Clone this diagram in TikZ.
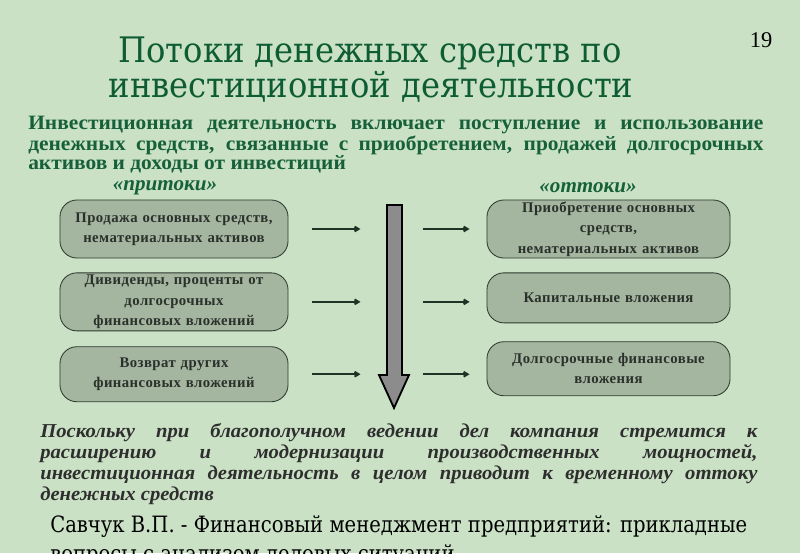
\documentclass[tikz,border=0pt]{standalone}
\usepackage{fontspec}
\setmainfont{Liberation Serif}
\newfontfamily\titlefont[FakeStretch=0.915]{DejaVu Serif}
\newfontfamily\srcfont[FakeStretch=0.87]{DejaVu Serif}
\newfontfamily\introfont[FakeStretch=1.05]{Liberation Serif}
\newfontfamily\notefont[FakeStretch=1.05]{Liberation Serif}
\newfontfamily\boxfont[LetterSpace=3]{Liberation Serif}
\usetikzlibrary{positioning, arrows.meta, calc}
\definecolor{bgfill}{HTML}{CAE1C5}
\definecolor{titlegreen}{HTML}{0E5C33}
\definecolor{textgreen}{HTML}{16603A}
\definecolor{boxfill}{HTML}{A4B5A0}
\definecolor{boxline}{HTML}{2E3B2E}
\definecolor{boxtext}{HTML}{2A312B}
\definecolor{arrowgray}{HTML}{8C8C8C}
\definecolor{darkline}{HTML}{1E3324}

\begin{document}
\begin{tikzpicture}[
  x=0.025cm, y=-0.025cm,
  every node/.style={inner sep=0pt},
  heading/.style={text=titlegreen, font=\titlefont\fontsize{25}{30}\selectfont},
  flowbox/.style={
    draw=boxline, fill=boxfill, rounded corners=12pt, line width=0.6pt,
    text width=5.4cm, align=center, text=boxtext,
    font=\boxfont\bfseries\fontsize{10.5}{14.5}\selectfont
  },
  side/.style={text=textgreen, font=\bfseries\itshape\fontsize{15}{16}\selectfont},
  small/.style={-{Straight Barb[length=1mm, width=1.2mm]}, darkline, line width=1.4pt},
  bigarrow/.style={draw=black, fill=arrowgray, line width=1.3pt, line join=miter}
]
  \fill[bgfill] (0,0) rectangle (800,553);
  \clip (0,0) rectangle (800,553);

  % heading
  \node[heading, anchor=base] (t1) at (370,62) {Потоки денежных средств по};
  \node[heading, anchor=base] (t2) at (371,97) {инвестиционной деятельности};
  \node[anchor=base, font=\fontsize{16}{18}\selectfont] (num) at (761,47) {19};

  \node[anchor=north west, text width=18.375cm, align=justify, text=textgreen,
        font=\introfont\bfseries\fontsize{14.5}{12.6}\selectfont] (intro) at (28,116)
    {Инвестиционная деятельность включает поступление и использование\linebreak{} денежных средств, связанные с приобретением, продажей долгосрочных\linebreak{} активов и доходы от инвестиций};

  \node[side] (inlab) at (165,188) {«притоки»};
  \node[side] (outlab) at (588,188) {«оттоки»};

  % inflows
  \node[flowbox, minimum width=5.7cm, minimum height=1.45cm] (in1) at (174,229)
    {Продажа основных средств,\\нематериальных активов};
  \node[flowbox, minimum width=5.7cm, minimum height=1.45cm, below=0.35cm of in1] (in2)
    {Дивиденды, проценты от\\долгосрочных\\финансовых вложений};
  \node[flowbox, minimum width=5.7cm, minimum height=1.375cm, below=0.375cm of in2] (in3)
    {Возврат других\\финансовых вложений};

  % outflows
  \node[flowbox, minimum width=6.075cm, minimum height=1.45cm] (out1) at (608.5,229)
    {Приобретение основных\\средств,\\нематериальных активов};
  \node[flowbox, minimum width=6.075cm, minimum height=1.25cm, below=0.35cm of out1] (out2)
    {Капитальные вложения};
  \node[flowbox, minimum width=6.075cm, minimum height=1.35cm, below=0.45cm of out2] (out3)
    {Долгосрочные финансовые\\вложения};

  \foreach \i in {1,2,3} {
    \coordinate (a\i) at ([xshift=0.6cm]in\i.east);
    \coordinate (b\i) at ([xshift=1.8cm]in\i.east);
    \coordinate (c\i) at ([xshift=-1.6cm]out\i.west |- in\i.east);
    \coordinate (d\i) at ([xshift=-0.425cm]out\i.west |- in\i.east);
    \draw[small] (a\i) -- (b\i);
    \draw[small] (c\i) -- (d\i);
  }

  % main flow
  \draw[bigarrow] (387,205) -- (402,205) -- (402,375) -- (409,375) -- (394,408)
    -- (379,375) -- (387,375) -- cycle;

  \node[anchor=north west, text width=17.925cm, align=justify, text=black!82,
        font=\notefont\bfseries\itshape\fontsize{14}{14.9}\selectfont] (note) at (40,423)
    {Поскольку при благополучном ведении дел компания стремится к\linebreak{} расширению и модернизации производственных мощностей,\linebreak{} инвестиционная деятельность в целом приводит к временному оттоку\linebreak{} денежных средств};

  \node[anchor=base west, font=\srcfont\fontsize{16}{20}\selectfont] (src1) at (50,532)
    {Савчук В.П. - Финансовый менеджмент предприятий: прикладные};
  \node[anchor=base west, font=\srcfont\fontsize{16}{20}\selectfont] (src2) at (50,561)
    {вопросы с анализом деловых ситуаций};
\end{tikzpicture}
\end{document}
